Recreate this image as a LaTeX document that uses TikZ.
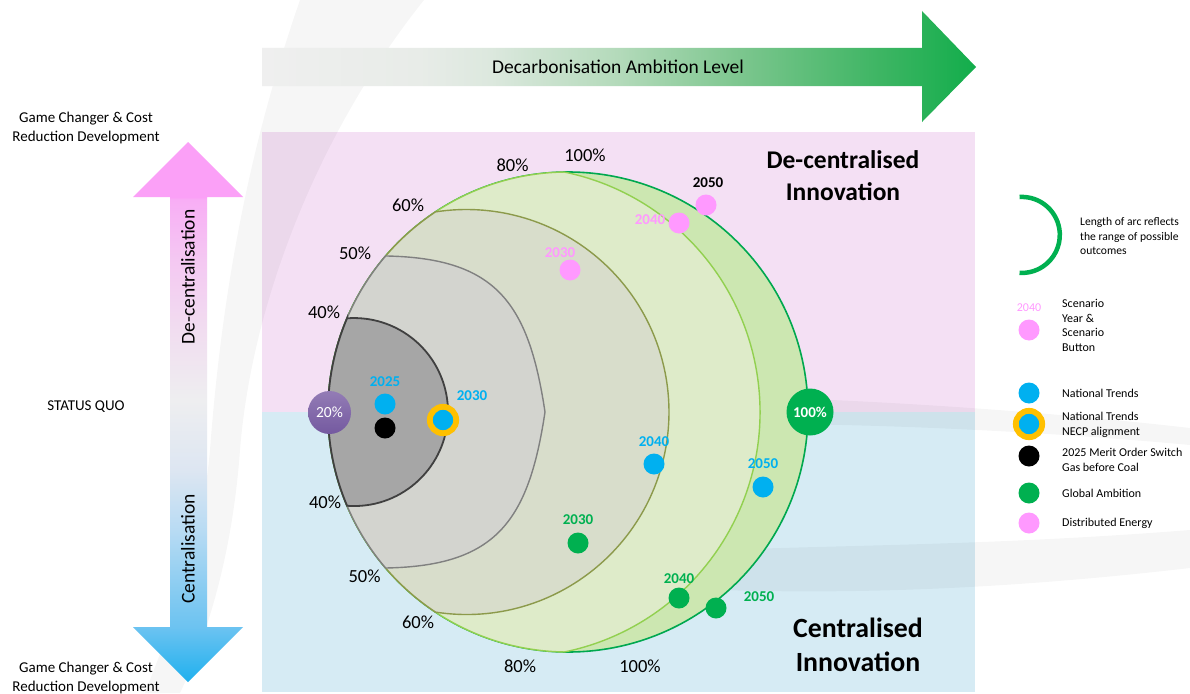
\documentclass[tikz,border=0pt]{standalone}
\usepackage{fontspec}
\setmainfont{Carlito}
\definecolor{pinkbg}{HTML}{F4E0F4}
\definecolor{bluebg}{HTML}{D6EBF4}
\definecolor{ntblue}{HTML}{00B0F0}
\definecolor{gagreen}{HTML}{00B050}
\definecolor{depink}{HTML}{FF99FF}
\definecolor{necp}{HTML}{FFC000}
\definecolor{band100}{HTML}{CCE7B1}
\definecolor{band80}{HTML}{DEEBC9}
\definecolor{band60}{HTML}{D8DDCB}
\definecolor{band50}{HTML}{D3D4CF}
\definecolor{band40}{HTML}{A6A6A6}
\definecolor{line100}{HTML}{00A84F}
\definecolor{line80}{HTML}{92D050}
\definecolor{line60}{HTML}{8C9A4B}
\definecolor{line50}{HTML}{808080}
\definecolor{line40}{HTML}{404040}
\definecolor{sqtop}{HTML}{937CB5}
\definecolor{sqbot}{HTML}{7459A0}
% green arrow stops
\definecolor{ga0}{HTML}{EFEFEF}
\definecolor{ga1}{HTML}{E8ECE8}
\definecolor{ga2}{HTML}{DCE8DE}
\definecolor{ga3}{HTML}{B3DABA}
\definecolor{ga4}{HTML}{7CC68E}
\definecolor{ga5}{HTML}{3DB563}
\definecolor{ga6}{HTML}{12AD4B}
% vertical arrow stops
\definecolor{la0}{HTML}{1FB0EE}
\definecolor{la1}{HTML}{6CC3F1}
\definecolor{la2}{HTML}{80C9F1}
\definecolor{la3}{HTML}{B8DBF3}
\definecolor{la4}{HTML}{DDE6F2}
\definecolor{la5}{HTML}{EEEEF0}
\definecolor{la6}{HTML}{F1DDF0}
\definecolor{la7}{HTML}{F4C8F2}
\definecolor{la8}{HTML}{F8AEF5}
\definecolor{la9}{HTML}{FBA0F7}
\pgfdeclarehorizontalshading{greenarrow}{100bp}{color(0bp)=(ga0); color(25bp)=(ga0); color(36bp)=(ga1); color(41bp)=(ga2); color(50bp)=(ga3); color(58.5bp)=(ga4); color(68.3bp)=(ga5); color(75bp)=(ga6); color(100bp)=(ga6)}
\pgfdeclareverticalshading{vertarrow}{100bp}{color(0bp)=(la0); color(25bp)=(la0); color(30.09bp)=(la1); color(32.59bp)=(la2); color(39.07bp)=(la3); color(44.63bp)=(la4); color(51.11bp)=(la5); color(57.59bp)=(la6); color(64.07bp)=(la7); color(69.63bp)=(la8); color(69.91bp)=(la9); color(100bp)=(la9)}
\tikzset{
  lbl/.style={font=\fontsize{18.5}{22}\selectfont, inner sep=0pt},
  yr/.style={font=\bfseries\fontsize{15}{18}\selectfont, inner sep=0pt},
  dotb/.style={circle, inner sep=0pt, minimum size=21pt},
  ringdot/.style={circle, inner sep=0pt, minimum size=26.4pt, fill=ntblue, draw=necp, line width=5.8pt},
  legtxt/.style={font=\fontsize{12}{15}\selectfont, anchor=west, align=left, inner sep=0pt},
  sidetxt/.style={font=\fontsize{15}{19}\selectfont, align=center, inner sep=0pt},
  axistxt/.style={font=\fontsize{19.5}{23}\selectfont, rotate=90, inner sep=0pt},
  bigtop/.style={font=\bfseries\fontsize{25.5}{32}\selectfont, align=center, inner sep=0pt},
  bigbot/.style={font=\bfseries\fontsize{27.8}{34}\selectfont, align=center, inner sep=0pt},
  swoosh/.style={fill=black, fill opacity=0.035},
}
\begin{document}
\begin{tikzpicture}[x=1pt,y=1pt]
\useasboundingbox (0,0) rectangle (1190,-693);
\fill[white] (0,0) rectangle (1190,-693);

% quadrant backgrounds
\fill[pinkbg] (262,-132) rectangle (975,-412);
\fill[bluebg] (262,-412) rectangle (975,-692);

% faint watermark swooshes
\fill[swoosh] (300,0) .. controls (262,-110) and (225,-250) .. (210,-450) .. controls (200,-560) and (165,-640) .. (145,-693) -- (180,-693) .. controls (205,-640) and (232,-560) .. (240,-450) .. controls (252,-300) and (320,-130) .. (424,0) -- cycle;
\fill[swoosh] (780,-398) .. controls (900,-402) and (1050,-412) .. (1190,-428) -- (1190,-445) .. controls (1050,-432) and (900,-425) .. (780,-424) -- cycle;
\fill[swoosh] (720,-550) .. controls (850,-545) and (1000,-545) .. (1190,-530) -- (1190,-568) .. controls (1000,-590) and (850,-594) .. (720,-590) -- cycle;

% top arrow
\shade[shading=greenarrow] (262,-48) -- (922,-48) -- (922,-11) -- (976,-67) -- (922,-122) -- (922,-86) -- (262,-86) -- cycle;
\node[font=\fontsize{19.5}{23}\selectfont, inner sep=0pt] (decarb) at (618,-67) {Decarbonisation Ambition Level};

% left double arrow
\shade[shading=vertarrow] (188,-142) -- (243,-197) -- (207,-197) -- (207,-627) -- (243,-627) -- (188,-682) -- (133,-627) -- (170,-627) -- (170,-197) -- (133,-197) -- cycle;
\node[axistxt] (decen) at (188,-277) {De-centralisation};
\node[axistxt] (cen) at (188,-549) {Centralisation};

\node[sidetxt] (gctop) at (86,-127.5) {Game Changer \& Cost\\Reduction Development};
\node[sidetxt] (sq) at (86,-407) {STATUS QUO};
\node[sidetxt] (gcbot) at (86,-678) {Game Changer \& Cost\\Reduction Development};

% nested regions
\filldraw[fill=band100, draw=line100, line width=1.6pt] (568,-412) circle[radius=240];
\filldraw[fill=band80, draw=line80, line width=1.4pt] (564.4,-172.03) arc[start angle=90.86, end angle=269.14, radius=240] arc[start angle=-78.37, end angle=78.37, radius=245] -- cycle;
\filldraw[fill=band60, draw=line60, line width=1.4pt] (435.54,-211.86) arc[start angle=123.5, end angle=236.5, radius=240] arc[start angle=-98.79, end angle=98.79, radius=202.5] -- cycle;
\filldraw[fill=band50, draw=line50, line width=1.4pt] (385.65,-255.97) arc[start angle=139.45, end angle=220.55, radius=240] .. controls (495.65,-566) and (528.5,-522) .. (545,-412) .. controls (528.5,-302) and (495.65,-258) .. (385.65,-255.97) -- cycle;
\filldraw[fill=band40, draw=line40, line width=1.8pt] (347.08,-318.23) arc[start angle=157, end angle=203, radius=240] arc[start angle=-94.22, end angle=94.22, radius=94] -- cycle;

% percent labels
\node[lbl] (t80) at (512.5,-165) {80\%};
\node[lbl] (t100) at (585,-155.5) {100\%};
\node[lbl] (t60) at (408,-205.5) {60\%};
\node[lbl] (t50) at (355,-253) {50\%};
\node[lbl] (t40) at (324,-312.5) {40\%};
\node[lbl] (b40) at (325,-502) {40\%};
\node[lbl] (b50) at (364.5,-576) {50\%};
\node[lbl] (b60) at (418,-622) {60\%};
\node[lbl] (b80) at (520,-666) {80\%};
\node[lbl] (b100) at (640,-666) {100\%};

% end nodes
\node[circle, inner sep=0pt, minimum size=43pt, top color=sqtop, bottom color=sqbot, text=white, font=\fontsize{15.5}{18}\selectfont] (sq20) at (329.5,-412.5) {20\%};
\node[circle, inner sep=0pt, minimum size=47pt, fill=gagreen, text=white, font=\bfseries\fontsize{15}{18}\selectfont] (full100) at (810,-412) {100\%};

% quadrant titles
\node[bigtop] (dcinno) at (843,-176) {De-centralised\\Innovation};
\node[bigbot] (cinno) at (858,-645) {Centralised\\Innovation};

% National Trends
\node[dotb, fill=ntblue] (n2025) at (385,-404) {};
\node[yr, text=ntblue] (ln2025) at (385,-382) {2025};
\node[dotb, fill=black] (mo2025) at (385,-428) {};
\node[ringdot] (n2030) at (443,-420) {};
\node[yr, text=ntblue] (ln2030) at (472,-396) {2030};
\node[dotb, fill=ntblue] (n2040) at (654,-464) {};
\node[yr, text=ntblue] (ln2040) at (654,-442) {2040};
\node[dotb, fill=ntblue] (n2050) at (763,-487) {};
\node[yr, text=ntblue] (ln2050) at (763,-464) {2050};

% Distributed Energy
\node[dotb, fill=depink] (d2030) at (570,-270) {};
\node[yr, text=depink] (ld2030) at (560,-253) {2030};
\node[dotb, fill=depink] (d2040) at (679,-223) {};
\node[yr, text=depink] (ld2040) at (650,-220) {2040};
\node[dotb, fill=depink] (d2050) at (706,-205) {};
\node[yr, text=black] (ld2050) at (708,-183) {2050};

% Global Ambition
\node[dotb, fill=gagreen] (g2030) at (578,-543) {};
\node[yr, text=gagreen] (lg2030) at (578,-520) {2030};
\node[dotb, fill=gagreen] (g2040) at (679,-598) {};
\node[yr, text=gagreen] (lg2040) at (679,-579) {2040};
\node[dotb, fill=gagreen] (g2050) at (716,-608) {};
\node[yr, text=gagreen] (lg2050) at (759,-597) {2050};

% legend
\coordinate (arcstart) at (1019.5,-197);
\draw[gagreen, line width=4.5pt] (arcstart) arc[start angle=93.5, end angle=-93.5, radius=38];
\node[legtxt, font=\fontsize{11.6}{14.5}\selectfont] (legarc) at (1080,-236.5) {Length of arc reflects\\the range of possible\\outcomes};

\node[inner sep=0pt, text=depink, font=\fontsize{12}{15}\selectfont] (leg2040) at (1029,-308) {2040};
\node[dotb, fill=depink] (legbtn) at (1029,-330) {};
\node[legtxt, font=\fontsize{12}{14.4}\selectfont] (legbtntxt) at (1062,-325.5) {Scenario\\Year \&\\Scenario\\Button};

\node[dotb, fill=ntblue] (legnt) at (1029,-393) {};
\node[legtxt] (legnttxt) at (1062,-393) {National Trends};
\node[ringdot] (legnecp) at (1029,-424) {};
\node[legtxt] (legnecptxt) at (1062,-425) {National Trends\\NECP alignment};
\node[dotb, fill=black] (legmo) at (1029,-456) {};
\node[legtxt] (legmotxt) at (1062,-459.5) {2025 Merit Order Switch\\Gas before Coal};
\node[dotb, fill=gagreen] (legga) at (1029,-493) {};
\node[legtxt] (leggatxt) at (1062,-493) {Global Ambition};
\node[dotb, fill=depink] (legde) at (1029,-523) {};
\node[legtxt] (legdetxt) at (1062,-523.5) {Distributed Energy};
\end{tikzpicture}
\end{document}
